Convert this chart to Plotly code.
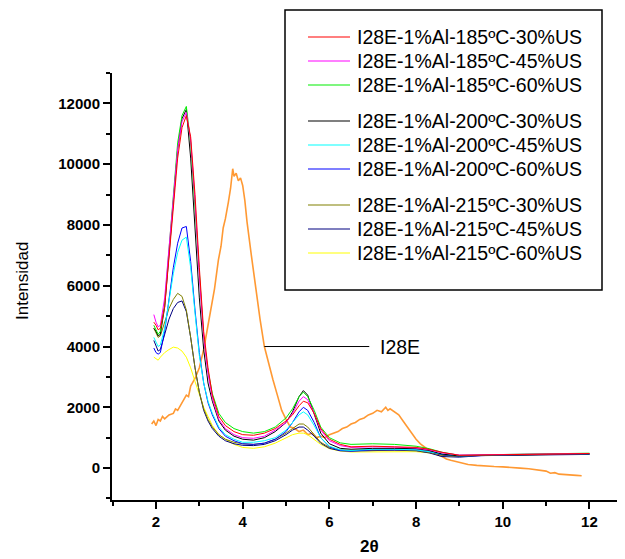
import plotly.graph_objects as go

# 2-theta grid shared by the nine modified samples
two_theta = [1.95, 2.0, 2.05, 2.1, 2.2, 2.3, 2.4, 2.5, 2.6, 2.7, 2.8, 2.9, 3.0, 3.1, 3.2,
             3.3, 3.45, 3.6, 3.8, 4.0, 4.25, 4.5, 4.75, 5.0, 5.15, 5.3, 5.4, 5.5, 5.65, 5.8,
             6.0, 6.25, 6.5, 7.0, 7.5, 8.0, 8.3, 8.6, 9.0, 9.5, 10.0, 10.5, 11.0, 11.5, 12.0]

s185_30 = [4800, 4700, 4550, 4600, 5300, 6900, 8600, 10200, 11200, 11600, 10900, 9000, 6600, 4500, 3300,
           2400, 1700, 1400, 1200, 1100, 1080, 1150, 1300, 1550, 1750, 2050, 2200, 2150, 1800, 1300,
           950, 780, 700, 720, 700, 680, 620, 520, 420, 430, 450, 440, 460, 470, 480]
s185_45 = [5050, 4800, 4650, 4700, 5600, 7300, 9000, 10500, 11400, 11700, 10800, 8800, 6300, 4300, 3100,
           2300, 1600, 1300, 1100, 1000, 980, 1050, 1250, 1500, 1800, 2200, 2350, 2250, 1800, 1250,
           900, 740, 680, 700, 690, 660, 600, 500, 430, 440, 450, 450, 460, 470, 480]
s185_60 = [4700, 4550, 4400, 4500, 5400, 7200, 9100, 10700, 11600, 11900, 10700, 8600, 6200, 4300, 3200,
           2450, 1800, 1500, 1300, 1200, 1150, 1200, 1350, 1650, 1950, 2350, 2500, 2350, 1900, 1350,
           1000, 830, 780, 800, 780, 720, 640, 520, 420, 440, 450, 460, 470, 480, 490]
s200_30 = [4600, 4500, 4350, 4400, 5300, 7100, 8900, 10500, 11500, 11800, 10200, 7900, 5600, 3900, 2800,
           2200, 1550, 1250, 1050, 950, 920, 1000, 1200, 1500, 1850, 2350, 2550, 2400, 1800, 1150,
           800, 650, 620, 650, 650, 640, 580, 460, 400, 430, 440, 440, 450, 460, 470]
s200_45 = [4300, 4150, 4000, 4050, 4600, 5500, 6400, 7100, 7500, 7600, 6600, 5100, 3700, 2800, 2200,
           1800, 1350, 1100, 950, 850, 850, 900, 1000, 1250, 1500, 1750, 1850, 1750, 1400, 1000,
           720, 600, 580, 620, 620, 600, 540, 460, 400, 430, 440, 450, 450, 460, 470]
s200_60 = [3950, 3800, 3750, 3800, 4500, 5600, 6600, 7400, 7900, 7950, 6800, 5200, 3800, 2800, 2150,
           1750, 1300, 1050, 900, 800, 780, 820, 950, 1200, 1500, 1850, 2000, 1900, 1500, 1000,
           700, 580, 560, 600, 610, 600, 540, 440, 390, 420, 430, 440, 450, 450, 460]
s215_30 = [4600, 4450, 4300, 4350, 4800, 5250, 5550, 5750, 5650, 5200, 4300, 3300, 2500, 1950, 1600,
           1350, 1100, 950, 850, 800, 780, 820, 950, 1150, 1300, 1450, 1450, 1350, 1100, 850,
           680, 600, 580, 600, 600, 580, 520, 420, 380, 420, 430, 440, 450, 450, 460]
s215_45 = [4200, 4000, 3850, 3900, 4400, 4900, 5250, 5450, 5500, 5150, 4300, 3300, 2500, 1900, 1550,
           1300, 1050, 900, 800, 750, 740, 780, 900, 1100, 1250, 1350, 1350, 1250, 1050, 820,
           650, 570, 560, 580, 590, 570, 500, 380, 360, 410, 420, 430, 440, 440, 450]
s215_60 = [3650, 3600, 3550, 3650, 3800, 3900, 3980, 3950, 3850, 3650, 3300, 2850, 2400, 2000, 1700,
           1400, 1100, 950, 780, 680, 650, 700, 820, 1000, 1100, 1150, 1150, 1100, 950, 780,
           640, 560, 530, 540, 540, 540, 500, 420, 380, 420, 430, 440, 440, 450, 460]

# unmodified clay I28E (noisy trace, read point by point)
i28e_x = [1.9, 1.95, 2.0, 2.05, 2.1, 2.15, 2.2, 2.3, 2.4, 2.45, 2.5, 2.6, 2.7, 2.75, 2.8, 2.9,
          3.0, 3.05, 3.1, 3.2, 3.3, 3.35, 3.44, 3.5, 3.55, 3.6, 3.67, 3.72, 3.77, 3.8, 3.85,
          3.9, 3.95, 4.0, 4.05, 4.1, 4.2, 4.3, 4.4, 4.5, 4.6, 4.7, 4.8, 4.9, 5.0, 5.1, 5.2,
          5.3, 5.4, 5.5, 5.6, 5.7, 5.8, 5.9, 6.0, 6.1, 6.2, 6.3, 6.4, 6.5, 6.6, 6.7, 6.8,
          6.9, 7.0, 7.1, 7.2, 7.3, 7.35, 7.4, 7.5, 7.6, 7.7, 7.8, 7.9, 8.0, 8.1, 8.2, 8.3,
          8.4, 8.5, 8.6, 8.7, 8.8, 9.0, 9.2, 9.4, 9.6, 9.8, 10.0, 10.2, 10.4, 10.6, 10.8,
          11.0, 11.1, 11.2, 11.3, 11.5, 11.7, 11.82]
i28e_y = [1450, 1550, 1400, 1600, 1550, 1700, 1620, 1750, 1800, 1950, 1900, 2150, 2400, 2350,
          2700, 2950, 3300, 3600, 3900, 4700, 5500, 5900, 6850, 7300, 7900, 8200, 8750, 9200,
          9850, 9600, 9700, 9450, 9550, 9300, 8800, 8100, 7000, 5900, 4900, 4000, 3400, 2900,
          2400, 1900, 1600, 1350, 1300, 1200, 1250, 1100, 1150, 1000, 1050, 1000, 1100, 1150,
          1200, 1300, 1350, 1450, 1500, 1600, 1650, 1750, 1800, 1900, 1850, 2000, 1900, 1950,
          1850, 1750, 1550, 1350, 1150, 950, 800, 700, 580, 520, 430, 380, 300, 260, 180, 120,
          90, 60, 50, 40, 30, 0, -20, -60, -100, -170, -150, -200, -230, -240, -250]

names = ["I28E-1%Al-185ºC-30%US", "I28E-1%Al-185ºC-45%US", "I28E-1%Al-185ºC-60%US",
         "I28E-1%Al-200ºC-30%US", "I28E-1%Al-200ºC-45%US", "I28E-1%Al-200ºC-60%US",
         "I28E-1%Al-215ºC-30%US", "I28E-1%Al-215ºC-45%US", "I28E-1%Al-215ºC-60%US"]
series = [s185_30, s185_45, s185_60, s200_30, s200_45, s200_60, s215_30, s215_45, s215_60]
colors = ["#ff0000", "#ff00ff", "#00ee00", "#000000", "#00ffff", "#0000ff", "#808000", "#000080", "#ffff00"]

# page body has an 8px margin, so the figure is drawn 8px smaller and
# the helpers below take screen pixels and return paper coords
W, H = 617, 551
L, R, T, B = 104, 617, 65, 492
def px(xs): return (xs - 8 - L) / (R - L)
def py(ys): return (B - (ys - 8)) / (B - T)

fig = go.Figure()

fig.add_trace(go.Scatter(x=i28e_x, y=i28e_y, mode="lines", line=dict(color="#ff9933", width=1.6),
                         showlegend=False, name="I28E"))

# draw in reverse so the 185 series end up on top
for i in reversed(range(len(series))):
    fig.add_trace(go.Scatter(x=two_theta, y=series[i], mode="lines", name=names[i],
                             line=dict(color=colors[i], width=1), showlegend=False))

# pointer line + label for the raw clay
fig.add_shape(type="line", xref="x", yref="y", x0=4.5, x1=6.92, y0=4000, y1=4000,
              line=dict(color="black", width=1))
fig.add_annotation(x=7.12, y=4000, xref="x", yref="y", text="I28E", showarrow=False,
                   xanchor="left", yanchor="middle",
                   font=dict(family="Liberation Sans", size=19.5, color="black"))

# legend drawn by hand: frame, sample lines, labels
fig.add_shape(type="rect", xref="paper", yref="paper", x0=px(285), x1=px(602), y0=py(290), y1=py(10),
              line=dict(color="black", width=1.5), fillcolor="rgba(0,0,0,0)", layer="above")
for i, name in enumerate(names):
    yrow = 37 + i * 24 + (i // 3) * 12
    fig.add_shape(type="line", xref="paper", yref="paper", x0=px(308), x1=px(350),
                  y0=py(yrow), y1=py(yrow), line=dict(color=colors[i], width=1.2))
    fig.add_annotation(x=px(355), y=py(yrow), xref="paper", yref="paper", text=name,
                       showarrow=False, xanchor="left", yanchor="middle",
                       font=dict(family="Liberation Sans", size=19.5, color="black"))

# axis titles
fig.add_annotation(x=px(369), y=py(546), xref="paper", yref="paper", text="<b>2θ</b>",
                   showarrow=False, xanchor="center", yanchor="middle",
                   font=dict(family="Liberation Sans", size=17, color="black"))
fig.add_annotation(x=px(22), y=py(281), xref="paper", yref="paper", text="Intensidad",
                   textangle=-90, showarrow=False, xanchor="center", yanchor="middle",
                   font=dict(family="Liberation Sans", size=17, color="black"))

fig.update_layout(
    width=W, height=H,
    margin=dict(l=L, r=W - R, t=T, b=H - B),
    paper_bgcolor="white", plot_bgcolor="white",
    showlegend=False,
    font=dict(family="Liberation Sans", color="black"),
    xaxis=dict(range=[0.985, 12.82], tick0=2, dtick=2, showgrid=False, zeroline=False,
               automargin=False, showline=True, linecolor="black", linewidth=2,
               ticks="outside", ticklen=7, tickwidth=2, tickcolor="black",
               tickfont=dict(family="Liberation Sans", size=15, weight="bold"),
               minor=dict(dtick=1, tick0=1, ticks="outside", ticklen=4, tickwidth=2, tickcolor="black")),
    yaxis=dict(range=[-1050, 13000], tick0=0, dtick=2000, showgrid=False, zeroline=False,
               automargin=False, tickformat="d", showline=True, linecolor="black", linewidth=2,
               ticks="outside", ticklen=7, tickwidth=2, tickcolor="black",
               tickfont=dict(family="Liberation Sans", size=15, weight="bold"),
               minor=dict(dtick=1000, tick0=0, ticks="outside", ticklen=4, tickwidth=2, tickcolor="black")),
)

fig.write_html("out.html")
